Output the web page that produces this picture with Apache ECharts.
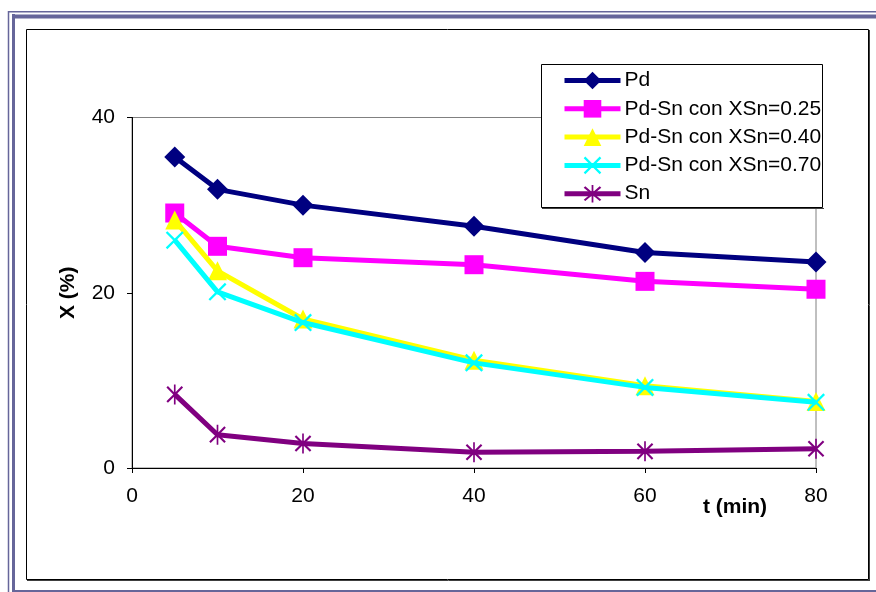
<!DOCTYPE html>
<html>
<head>
<meta charset="utf-8">
<script src="https://cdn.jsdelivr.net/npm/echarts@6/dist/echarts.min.js"></script>
<style>
  html, body { margin: 0; padding: 0; background: #ffffff; }
  #chart { width: 876px; height: 592px; }
</style>
</head>
<body>
<div id="chart"></div>
<script>
// Reaction time (min)
const times = [5, 10, 20, 40, 60, 80];

// Conversion X (%) for each catalyst
const pd      = [35.5, 31.8, 30.0, 27.6, 24.6, 23.5];
const pdSn025 = [29.1, 25.3, 24.0, 23.2, 21.3, 20.4];
const pdSn040 = [28.3, 22.5, 17.0, 12.3, 9.4, 7.6];
const pdSn070 = [26.0, 20.1, 16.6, 12.0, 9.2, 7.5];
const sn      = [8.4, 3.8, 2.8, 1.8, 1.9, 2.2];

const seriesNames = [
  'Pd',
  'Pd-Sn con XSn=0.25',
  'Pd-Sn con XSn=0.40',
  'Pd-Sn con XSn=0.70',
  'Sn'
];

const xTicks = [0, 20, 40, 60, 80];
const yTicks = [0, 20, 40];

const FONT = '"Liberation Sans", Arial, sans-serif';

// Marker shapes: a cross and a six-armed star
const crossPath = 'path://M0 9 L9 0 L50 41 L91 0 L100 9 L59 50 L100 91 L91 100 L50 59 L9 100 L0 91 L41 50 Z';
const starPath = 'path://M0 9 L9 0 L50 41 L91 0 L100 9 L59 50 L100 91 L91 100 L50 59 L9 100 L0 91 L41 50 Z M45 -10 L55 -10 L55 110 L45 110 Z';

function pairs(ys) {
  return times.map((t, i) => [t, ys[i]]);
}

const styles = [
  { data: pd,      color: '#000080', symbol: 'diamond',  size: 21 },
  { data: pdSn025, color: '#ff00ff', symbol: 'rect',     size: 19 },
  { data: pdSn040, color: '#ffff00', symbol: 'triangle', size: 19 },
  { data: pdSn070, color: '#00ffff', symbol: crossPath,  size: 18 },
  { data: sn,      color: '#800080', symbol: starPath,   size: 20 }
];

const chart = echarts.init(document.getElementById('chart'), null, { renderer: 'canvas' });

const frameColor = '#66669a';

chart.setOption({
  backgroundColor: '#ffffff',
  animation: false,
  textStyle: { fontFamily: FONT },
  graphic: [
    // outer decorative frame
    { type: 'line', shape: { x1: 8.5, y1: 11, x2: 8.5, y2: 592 }, style: { stroke: frameColor, lineWidth: 1.5 }, z: 100 },
    { type: 'line', shape: { x1: 8, y1: 11.75, x2: 876, y2: 11.75 }, style: { stroke: frameColor, lineWidth: 1.5 }, z: 100 },
    { type: 'line', shape: { x1: 13.5, y1: 14, x2: 13.5, y2: 592 }, style: { stroke: frameColor, lineWidth: 3 }, z: 100 },
    { type: 'line', shape: { x1: 12, y1: 16.5, x2: 876, y2: 16.5 }, style: { stroke: frameColor, lineWidth: 4 }, z: 100 },
    { type: 'line', shape: { x1: 12, y1: 591, x2: 876, y2: 591 }, style: { stroke: frameColor, lineWidth: 2 }, z: 100 },
    // chart area border with a slight shadow on right and bottom
    { type: 'rect', shape: { x: 26.5, y: 29.5, width: 842, height: 550 }, style: { fill: null, stroke: '#000000', lineWidth: 1 }, z: 100 },
    { type: 'line', shape: { x1: 869.5, y1: 30, x2: 869.5, y2: 581 }, style: { stroke: '#404040', lineWidth: 1 }, z: 100 },
    { type: 'line', shape: { x1: 27, y1: 580.5, x2: 870, y2: 580.5 }, style: { stroke: '#404040', lineWidth: 1 }, z: 100 },
    // legend box
    { type: 'rect', shape: { x: 541.5, y: 64.5, width: 281, height: 143 }, style: { fill: '#ffffff', stroke: '#000000', lineWidth: 1 }, z: 50 },
    { type: 'line', shape: { x1: 542, y1: 208.5, x2: 824, y2: 208.5 }, style: { stroke: '#404040', lineWidth: 1 }, z: 50 },
    // x-axis title
    { type: 'text', x: 735, y: 507, style: { text: 't (min)', font: 'bold 21px ' + FONT, fill: '#000000', textAlign: 'center', textVerticalAlign: 'middle' }, z: 100 }
  ],
  legend: {
    orient: 'vertical',
    left: 562,
    top: 70,
    z: 60,
    itemWidth: 56,
    itemHeight: 22,
    itemGap: 7.3,
    padding: 0,
    data: seriesNames,
    lineStyle: { width: 5 },
    textStyle: { fontSize: 21, color: '#000000', fontFamily: FONT, lineHeight: 21, padding: [0, 0, 0, -1] }
  },
  grid: {
    left: 132,
    right: 60,
    top: 117.5,
    bottom: 124,
    show: true,
    borderColor: '#808080',
    borderWidth: 1,
    backgroundColor: 'transparent'
  },
  xAxis: {
    type: 'value',
    min: 0,
    max: 80,
    interval: 20,
    axisLine: { show: true, onZero: false, lineStyle: { color: '#000000', width: 1 } },
    axisTick: { show: true, length: 5, inside: false, lineStyle: { color: '#000000' } },
    splitLine: { show: false },
    axisLabel: {
      fontSize: 21, color: '#000000', fontFamily: FONT, margin: 18,
      formatter: v => xTicks.includes(v) ? String(v) : ''
    }
  },
  yAxis: {
    type: 'value',
    min: 0,
    max: 40,
    interval: 20,
    name: 'X (%)',
    nameLocation: 'middle',
    nameGap: 53,
    nameTextStyle: { fontSize: 21, fontWeight: 'bold', color: '#000000', fontFamily: FONT },
    axisLine: { show: true, onZero: false, lineStyle: { color: '#000000', width: 1 } },
    axisTick: { show: true, length: 5, inside: false, lineStyle: { color: '#000000' } },
    splitLine: { show: false },
    axisLabel: {
      fontSize: 21, color: '#000000', fontFamily: FONT, margin: 17,
      formatter: v => yTicks.includes(v) ? String(v) : ''
    }
  },
  series: styles.map((s, i) => ({
    name: seriesNames[i],
    type: 'line',
    data: pairs(s.data),
    symbol: s.symbol,
    symbolSize: s.size,
    showAllSymbol: true,
    symbolKeepAspect: true,
    lineStyle: { color: s.color, width: 5 },
    itemStyle: { color: s.color, borderWidth: 0 },
    emphasis: { disabled: true },
    z: 2 + i
  }))
});
</script>
</body>
</html>
